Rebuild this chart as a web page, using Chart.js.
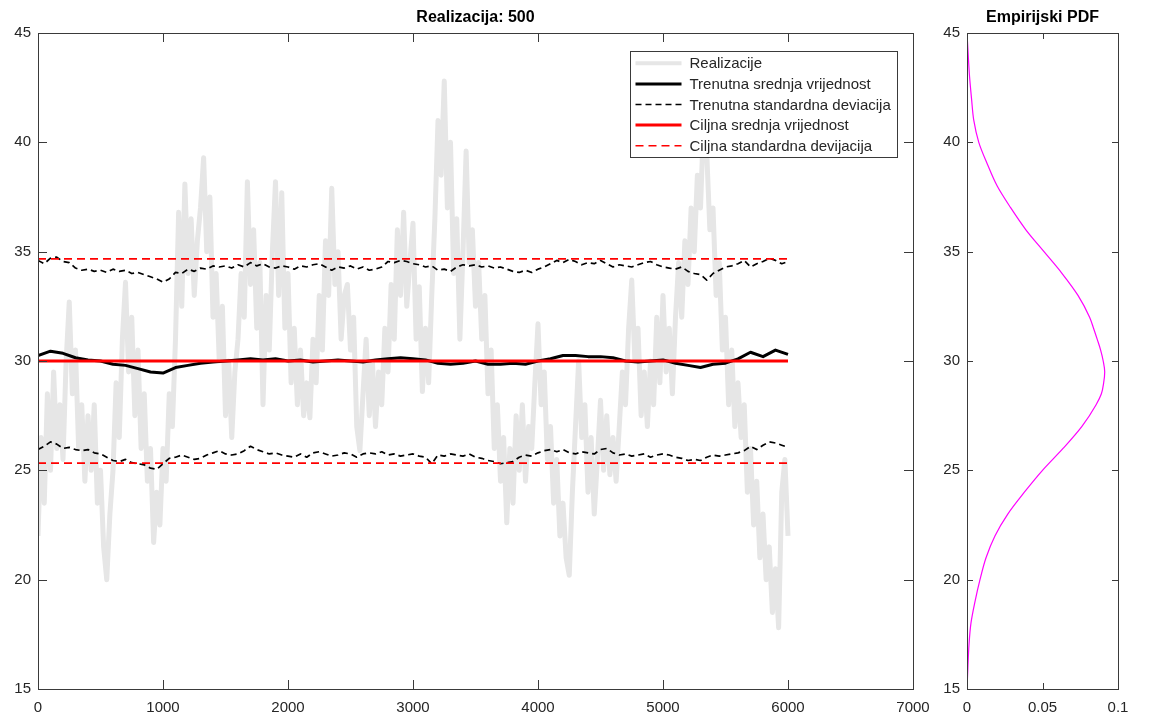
<!DOCTYPE html>
<html>
<head>
<meta charset="utf-8">
<title>Realizacija: 500</title>
<script src="https://cdn.jsdelivr.net/npm/chart.js@4.4.1/dist/chart.umd.min.js"></script>
<style>
  html, body { margin: 0; padding: 0; background: #fff; }
  body { width: 1165px; height: 717px; position: relative; overflow: hidden; }
  #left { position: absolute; left: 0; top: 0; width: 945px; height: 717px; }
  #right { position: absolute; left: 940px; top: 0; width: 225px; height: 717px; }
</style>
</head>
<body>
<div id="left"><canvas id="cvLeft"></canvas></div>
<div id="right"><canvas id="cvRight"></canvas></div>
<script>
// Left panel: one realization (grey), running mean / std (black), target mean / std (red).
// Right panel: empirical PDF of the values, drawn sideways.

// --- data ---
var realizationStep = 25;   // samples are every 25 steps, 0..6000
var realizationValues = [
  // 0 .. 975
  22.0, 26.5, 23.5, 28.5, 25.0, 29.5, 26.0, 28.0, 25.5, 30.0,
  32.7, 28.5, 30.5, 26.0, 28.0, 24.5, 27.5, 25.0, 28.0, 23.5,
  25.0, 21.5, 20.0, 23.0, 25.0, 29.0, 26.5, 31.0, 33.6, 29.5,
  32.0, 27.5, 30.5, 26.0, 28.5, 24.5, 26.0, 21.7, 24.0, 22.5,
  // 1000 .. 1975
  26.0, 24.5, 28.5, 27.0, 31.0, 36.8, 32.5, 38.1, 34.0, 36.5,
  33.0, 35.5, 37.0, 39.3, 35.0, 37.5, 32.0, 34.0, 30.0, 32.5,
  27.5, 30.0, 26.5, 29.5, 31.0, 34.0, 32.0, 38.2, 33.5, 36.0,
  31.5, 34.5, 28.0, 33.0, 30.5, 35.0, 38.2, 33.0, 37.7, 31.5,
  // 2000 .. 2975
  34.0, 29.0, 31.5, 28.0, 30.5, 27.5, 29.0, 27.4, 31.0, 29.0,
  33.0, 30.5, 35.5, 33.0, 37.9, 33.5, 35.0, 31.0, 33.0, 33.5,
  30.5, 32.0, 27.0, 25.9, 28.5, 31.0, 27.5, 30.0, 27.0, 29.5,
  28.0, 31.5, 29.5, 33.5, 31.0, 36.0, 33.0, 36.8, 32.5, 34.5,
  // 3000 .. 3975
  36.3, 31.0, 33.4, 28.6, 31.5, 29.0, 33.0, 36.5, 41.0, 38.5,
  42.8, 37.0, 40.0, 34.0, 36.5, 31.0, 35.0, 39.6, 34.5, 36.0,
  32.5, 34.5, 31.0, 33.0, 28.5, 30.5, 26.0, 28.0, 24.5, 26.5,
  22.6, 26.0, 23.5, 27.5, 25.0, 28.0, 24.5, 27.0, 26.0, 29.0,
  // 4000 .. 4975
  31.7, 28.0, 29.5, 25.5, 27.0, 23.5, 25.5, 22.0, 23.5, 21.0,
  20.2, 24.0, 27.0, 30.0, 26.5, 28.0, 24.0, 26.5, 23.0, 25.5,
  28.2, 25.0, 27.5, 24.8, 26.5, 24.5, 27.0, 29.5, 28.0, 31.5,
  33.7, 30.0, 31.5, 27.5, 29.5, 27.0, 30.0, 28.0, 32.0, 29.0,
  // 5000 .. 6000
  33.0, 29.5, 31.5, 28.5, 32.0, 34.5, 32.0, 35.5, 33.5, 37.0,
  35.0, 38.5, 37.0, 41.0, 39.5, 36.0, 37.0, 33.0, 34.5, 30.5,
  32.0, 28.0, 30.5, 27.0, 29.0, 26.5, 28.0, 24.0, 26.0, 22.5,
  24.5, 21.0, 23.0, 20.0, 21.5, 18.5, 20.5, 17.8, 24.0, 25.5,
  22.0
];

var meanStep = 100;         // running mean, 0..6000
var runningMean = [
  30.25, 30.45, 30.35, 30.15, 30.05, 30.0, 29.85, 29.8, 29.65, 29.5,
  29.45, 29.7, 29.8, 29.9, 29.95, 30.0, 30.05, 30.1, 30.05, 30.1,
  30.0, 30.05, 29.95, 30.0, 30.05, 30.0, 29.95, 30.05, 30.1, 30.15,
  30.1, 30.05, 29.9, 29.85, 29.9, 30.0, 29.85, 29.85, 29.9, 29.85,
  30.0, 30.1, 30.25, 30.25, 30.2, 30.2, 30.15, 30.0, 29.95, 30.0,
  30.05, 29.9, 29.8, 29.7, 29.85, 29.9, 30.1, 30.4, 30.2, 30.5,
  30.3
];

var stdStep = 50;           // running mean +/- running std, 0..6000
var runningStdUpper = [
  34.6, 34.45, 34.7, 34.75, 34.55, 34.5, 34.25, 34.15, 34.2, 34.1,
  34.15, 34.05, 34.2, 34.1, 34.15, 34.0, 34.05, 33.95, 33.85, 33.75,
  33.6, 33.75, 34.05, 34.0, 34.2, 34.1, 34.25, 34.2, 34.35, 34.3,
  34.35, 34.25, 34.4, 34.3, 34.5, 34.35, 34.45, 34.3, 34.25, 34.35,
  34.3, 34.2, 34.35, 34.3, 34.4, 34.45, 34.3, 34.15, 34.3, 34.25,
  34.35, 34.2, 34.3, 34.15, 34.2, 34.3, 34.55, 34.5, 34.6, 34.55,
  34.45, 34.4, 34.3, 34.35, 34.15, 34.2, 34.1, 34.3, 34.4, 34.35,
  34.4, 34.3, 34.35, 34.25, 34.3, 34.2, 34.1, 34.05, 34.15, 34.05,
  34.2, 34.3, 34.45, 34.6, 34.5, 34.65, 34.55, 34.4, 34.5, 34.45,
  34.6, 34.45, 34.3, 34.4, 34.35, 34.3, 34.4, 34.5, 34.55, 34.4,
  34.3, 34.25, 34.2, 34.3, 34.1, 34.0, 33.95, 33.7, 34.0, 34.15,
  34.3, 34.35, 34.45, 34.6, 34.3, 34.45, 34.55, 34.7, 34.6, 34.45,
  34.55
];
var runningStdLower = [
  25.95, 26.1, 26.3, 26.2, 26.0, 26.05, 25.95, 25.9, 25.95, 25.8,
  25.75, 25.6, 25.45, 25.4, 25.5, 25.35, 25.3, 25.25, 25.1, 25.05,
  25.3, 25.55, 25.6, 25.7, 25.6, 25.5, 25.55, 25.7, 25.8, 25.9,
  25.75, 25.7, 25.75, 25.9, 26.1, 25.95, 25.85, 25.75, 25.8, 25.7,
  25.65, 25.6, 25.75, 25.6, 25.8, 25.85, 25.75, 25.65, 25.7, 25.8,
  25.75, 25.6, 25.75, 25.8, 25.75, 25.85, 25.7, 25.75, 25.65, 25.7,
  25.75, 25.65, 25.6, 25.3, 25.7, 25.65, 25.75, 25.7, 25.65, 25.75,
  25.6, 25.55, 25.45, 25.4, 25.3, 25.35, 25.4, 25.6, 25.7, 25.65,
  25.8, 25.9, 25.95, 25.85, 25.95, 25.8, 25.75, 25.85, 25.8, 25.75,
  25.95, 26.0, 25.8, 25.7, 25.75, 25.65, 25.7, 25.75, 25.6, 25.7,
  25.75, 25.7, 25.6, 25.55, 25.45, 25.5, 25.45, 25.6, 25.7, 25.65,
  25.7, 25.75, 25.8, 25.9, 26.1, 25.95, 26.15, 26.3, 26.25, 26.15,
  26.05
];

var targetX = [0, 6000];
var targetMean = [30, 30];
var targetStdUpper = [34.67, 34.67];
var targetStdLower = [25.33, 25.33];

// empirical PDF: value (vertical) -> density (horizontal)
var pdfValues  = [15, 16, 17, 18, 19, 20, 21, 22, 23, 24, 25, 26, 27, 28, 28.5, 29, 29.5,
                  30, 30.5, 31, 31.5, 32, 33, 34, 35, 36, 37, 38, 39, 40, 41, 42, 43, 44, 45];
var pdfDensity = [0, 0.0006, 0.0013, 0.0026, 0.0053, 0.0086, 0.0126, 0.0185, 0.027, 0.038,
                  0.050, 0.0636, 0.076, 0.0855, 0.089, 0.0905, 0.0912, 0.0902, 0.0885, 0.0862,
                  0.0838, 0.0812, 0.0735, 0.063, 0.051, 0.039, 0.029, 0.020, 0.0135, 0.0078,
                  0.0045, 0.003, 0.0017, 0.0008, 0];

var xTickValues = [0, 1000, 2000, 3000, 4000, 5000, 6000, 7000];
var xTickLabels = ["0", "1000", "2000", "3000", "4000", "5000", "6000", "7000"];
var yTickValues = [15, 20, 25, 30, 35, 40, 45];
var yTickLabels = ["15", "20", "25", "30", "35", "40", "45"];
var pdfTickValues = [0, 0.05, 0.1];
var pdfTickLabels = ["0", "0.05", "0.1"];

// --- styling ---
var FONT = '"Liberation Sans", Arial, Helvetica, sans-serif';
var TEXT = "#262626";
var AXIS = "#3a3a3a";

function series(values, step) {
  return values.map(function (v, i) { return { x: i * step, y: v }; });
}
function pairs(xs, ys) {
  return xs.map(function (x, i) { return { x: x, y: ys[i] }; });
}

// MATLAB-like box with inward ticks on all four sides
var boxPlugin = {
  id: "matlabBox",
  afterDraw: function (chart, args, opts) {
    var ctx = chart.ctx, a = chart.chartArea, sx = chart.scales.x, sy = chart.scales.y;
    var len = opts.tickLen || 8;
    ctx.save();
    ctx.strokeStyle = AXIS; ctx.lineWidth = 1;
    ctx.beginPath();
    sx.ticks.forEach(function (t) {
      var p = Math.round(sx.getPixelForValue(t.value)) + 0.5;
      ctx.moveTo(p, a.bottom); ctx.lineTo(p, a.bottom - len);
      ctx.moveTo(p, a.top); ctx.lineTo(p, a.top + len);
    });
    sy.ticks.forEach(function (t) {
      var p = Math.round(sy.getPixelForValue(t.value)) + 0.5;
      ctx.moveTo(a.left, p); ctx.lineTo(a.left + len, p);
      ctx.moveTo(a.right, p); ctx.lineTo(a.right - len, p);
    });
    ctx.stroke();
    ctx.strokeRect(Math.round(a.left) + 0.5, Math.round(a.top) + 0.5,
                   Math.round(a.right - a.left), Math.round(a.bottom - a.top));
    ctx.restore();
  }
};

// legend box inside the axes, top right, built from the dataset styles
var insideLegend = {
  id: "insideLegend",
  afterDraw: function (chart) {
    var ctx = chart.ctx, a = chart.chartArea;
    var items = chart.data.datasets.filter(function (d) { return d.label; })
      .sort(function (p, q) { return p.legendOrder - q.legendOrder; });
    ctx.save();
    ctx.font = "15px " + FONT;
    var textW = Math.max.apply(null, items.map(function (d) { return ctx.measureText(d.label).width; }));
    var rowH = 20.6, sample = 46, gap = 8, padL = 5, padR = 7;
    var w = Math.round(padL + sample + gap + textW + padR);
    var h = Math.round(items.length * rowH + 3);
    var x0 = Math.round(a.right - 16 - w) + 0.5, y0 = Math.round(a.top + 18) + 0.5;
    ctx.fillStyle = "#fff"; ctx.fillRect(x0, y0, w, h);
    ctx.strokeStyle = AXIS; ctx.lineWidth = 1; ctx.strokeRect(x0, y0, w, h);
    items.forEach(function (d, i) {
      var cy = y0 + 1.5 + rowH * (i + 0.5);
      ctx.beginPath();
      ctx.setLineDash(d.borderDash || []);
      ctx.strokeStyle = d.borderColor; ctx.lineWidth = Math.min(d.borderWidth, 4);
      ctx.moveTo(x0 + padL, cy); ctx.lineTo(x0 + padL + sample, cy); ctx.stroke();
      ctx.setLineDash([]);
      ctx.fillStyle = TEXT; ctx.textBaseline = "middle"; ctx.textAlign = "left";
      ctx.fillText(d.label, x0 + padL + sample + gap, cy + 1);
    });
    ctx.restore();
  }
};

function axis(min, max, tickValues, tickLabels, pad, fit) {
  return {
    type: "linear", min: min, max: max,
    grid: { display: false, drawTicks: false },
    border: { display: false },
    afterBuildTicks: function (s) { s.ticks = tickValues.map(function (v) { return { value: v }; }); },
    afterFit: fit,
    ticks: {
      color: TEXT, font: { family: FONT, size: 15 }, padding: pad,
      autoSkip: false, maxRotation: 0,
      callback: function (v, i) { return tickLabels[i]; }
    }
  };
}

function titleOpts(text) {
  return {
    display: true, text: text, fullSize: false, color: "#000",
    font: { family: FONT, size: 16, weight: "bold", lineHeight: 1 },
    padding: { top: 10, bottom: 7 }
  };
}

new Chart(document.getElementById("cvLeft"), {
  type: "line",
  data: {
    datasets: [
      { label: "Ciljna standardna devijacija", legendOrder: 5, data: pairs(targetX, targetStdUpper),
        borderColor: "#f00", borderWidth: 1.6, borderDash: [8, 5], order: 1 },
      { label: "", data: pairs(targetX, targetStdLower),
        borderColor: "#f00", borderWidth: 1.6, borderDash: [8, 5], order: 1 },
      { label: "Ciljna srednja vrijednost", legendOrder: 4, data: pairs(targetX, targetMean),
        borderColor: "#f00", borderWidth: 3, order: 2 },
      { label: "Trenutna standardna deviacija", legendOrder: 3, data: series(runningStdUpper, stdStep),
        borderColor: "#000", borderWidth: 1.7, borderDash: [6, 4], order: 3 },
      { label: "", data: series(runningStdLower, stdStep),
        borderColor: "#000", borderWidth: 1.7, borderDash: [6, 4], order: 3 },
      { label: "Trenutna srednja vrijednost", legendOrder: 2, data: series(runningMean, meanStep),
        borderColor: "#000", borderWidth: 3, order: 4 },
      { label: "Realizacije", legendOrder: 1, data: series(realizationValues, realizationStep),
        borderColor: "#e6e6e6", borderWidth: 5, order: 5 }
    ]
  },
  options: {
    responsive: true, maintainAspectRatio: false, animation: false, events: [],
    layout: { padding: { left: 0, right: 32, top: 0, bottom: 0 } },
    elements: { point: { radius: 0 }, line: { tension: 0, borderJoinStyle: "round" } },
    scales: {
      x: axis(0, 7000, xTickValues, xTickLabels, 10, function (s) { s.height = 28; }),
      y: axis(15, 45, yTickValues, yTickLabels, 7, function (s) { s.width = 38; })
    },
    plugins: {
      legend: { display: false }, tooltip: { enabled: false },
      title: titleOpts("Realizacija: 500"),
      matlabBox: { tickLen: 9 }
    }
  },
  plugins: [boxPlugin, insideLegend]
});

new Chart(document.getElementById("cvRight"), {
  type: "line",
  data: {
    datasets: [
      { label: "PDF", data: pairs(pdfDensity, pdfValues),
        borderColor: "#ff00ff", borderWidth: 1.2, cubicInterpolationMode: "monotone" }
    ]
  },
  options: {
    indexAxis: "y",
    responsive: true, maintainAspectRatio: false, animation: false, events: [],
    layout: { padding: { left: 0, right: 47, top: 0, bottom: 0 } },
    elements: { point: { radius: 0 } },
    scales: {
      x: axis(0, 0.1, pdfTickValues, pdfTickLabels, 10, function (s) { s.height = 28; }),
      y: axis(15, 45, yTickValues, yTickLabels, 7, function (s) { s.width = 27; })
    },
    plugins: {
      legend: { display: false }, tooltip: { enabled: false },
      title: titleOpts("Empirijski PDF"),
      matlabBox: { tickLen: 6 }
    }
  },
  plugins: [boxPlugin]
});
</script>
</body>
</html>
